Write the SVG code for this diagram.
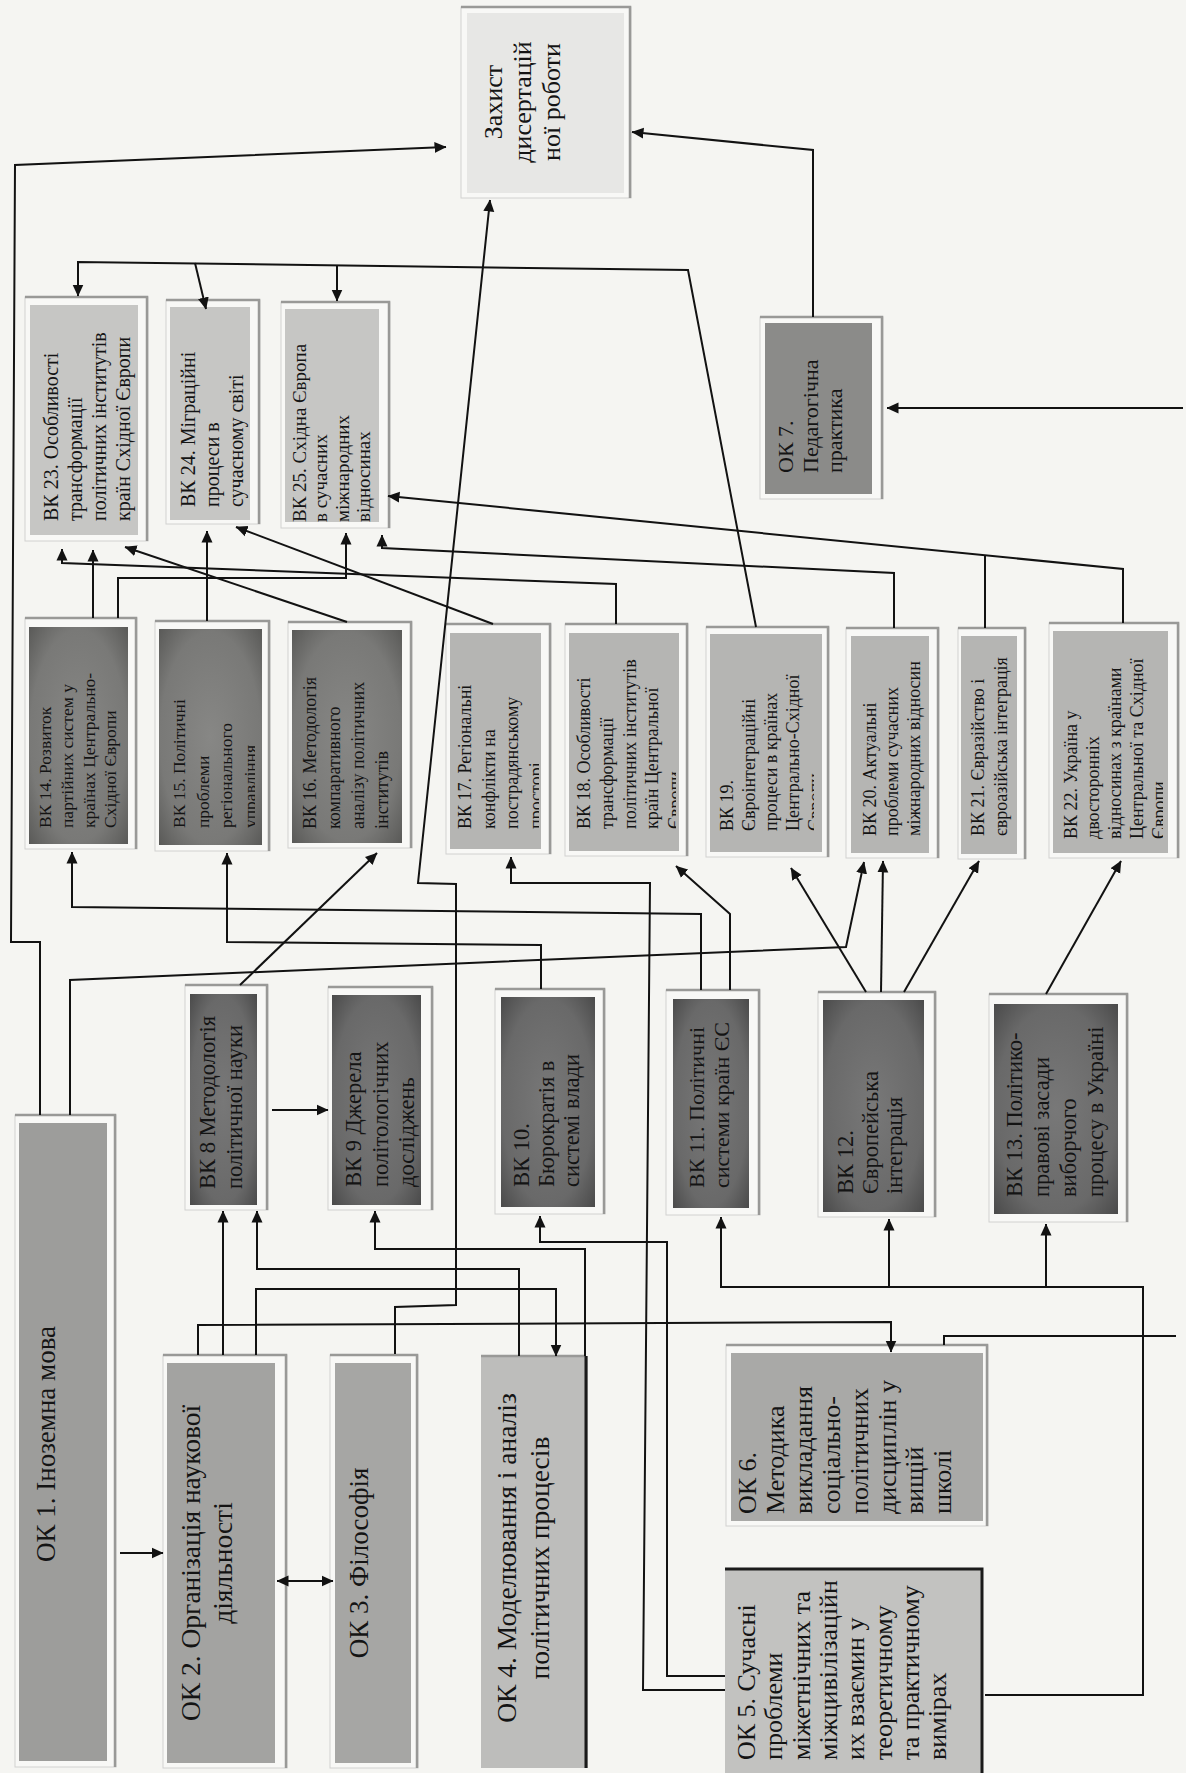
<svg xmlns="http://www.w3.org/2000/svg" width="1186" height="1773" viewBox="0 0 1186 1773">
<defs>
<style>
.bg{fill:#f5f5f2}
.o{fill:#f8f8f6;stroke:#d2d2d0;stroke-width:1}
.sh{fill:none;stroke:#999997;stroke-width:2.5}
.bk{fill:none;stroke:#1a1a1a;stroke-width:3}
.t{font-family:"Liberation Serif","Times New Roman",serif;fill:#141414}
.c{fill:none;stroke:#121212;stroke-width:2;stroke-linejoin:miter}
.a{marker-end:url(#ah)}
.s{marker-start:url(#ahs)}
.f1{fill:#e7e7e5}
.f2{fill:#c6c6c4}
.f3{fill:url(#dk)}
.f5{fill:url(#dk2)}
.f4{fill:#b5b5b3}
</style>
<radialGradient id="dk" cx="0.5" cy="0.5" r="0.75"><stop offset="0" stop-color="#787878"/><stop offset="0.65" stop-color="#696969"/><stop offset="1" stop-color="#444444"/></radialGradient>
<radialGradient id="dk2" cx="0.5" cy="0.5" r="0.75"><stop offset="0" stop-color="#878785"/><stop offset="0.65" stop-color="#797977"/><stop offset="1" stop-color="#535351"/></radialGradient>
<marker id="ah" viewBox="0 0 12 12" refX="11.5" refY="6" markerWidth="12" markerHeight="12" markerUnits="userSpaceOnUse" orient="auto"><path d="M0,0.5 L12,6 L0,11.5 z" fill="#121212"/></marker>
<marker id="ahs" viewBox="0 0 12 12" refX="0.5" refY="6" markerWidth="12" markerHeight="12" markerUnits="userSpaceOnUse" orient="auto"><path d="M12,0.5 L0,6 L12,11.5 z" fill="#121212"/></marker>
<clipPath id="cl15"><rect x="159" y="629" width="96" height="216"/></clipPath>
<clipPath id="cl17"><rect x="450" y="633" width="89" height="216"/></clipPath>
<clipPath id="cl18"><rect x="569" y="633" width="107" height="218"/></clipPath>
<clipPath id="cl19"><rect x="710" y="634" width="104" height="218"/></clipPath>
<clipPath id="cl22"><rect x="1053" y="631" width="110" height="222"/></clipPath>
</defs>
<rect class="bg" x="0" y="0" width="1186" height="1773"/>

<g id="zakhyst">
<rect class="o" x="461" y="7" width="170" height="191"/>
<rect class="f1" x="467" y="13" width="157" height="180"/>
<path class="sh" d="M461,7 H630 V198"/>
<text class="t" font-size="26" text-anchor="middle" transform="translate(502,102) rotate(-90)"><tspan x="0" y="0">Захист</tspan><tspan x="0" y="29">дисертацій</tspan><tspan x="0" y="58">ної роботи</tspan></text>
</g>

<g id="ok7">
<rect class="o" x="760" y="317" width="123" height="182"/>
<rect x="765" y="323" width="107" height="171" fill="#8b8b89"/>
<path class="sh" d="M760,317 H882 V499"/>
<text class="t" font-size="22" transform="translate(793,473) rotate(-90)"><tspan x="0" y="0">ОК 7.</tspan><tspan x="0" y="24.5">Педагогічна</tspan><tspan x="0" y="49">практика</tspan></text>
</g>

<g id="vk23">
<rect class="o" x="25" y="297" width="123" height="244"/>
<rect class="f2" x="30" y="305" width="108" height="230"/>
<path class="sh" d="M25,297 H147 V541"/>
<text class="t" font-size="20" transform="translate(58,521) rotate(-90)"><tspan x="0" y="0">ВК 23. Особливості</tspan><tspan x="0" y="24">трансформації</tspan><tspan x="0" y="48">політичних інститутів</tspan><tspan x="0" y="72">країн Східної Європи</tspan></text>
</g>

<g id="vk24">
<rect class="o" x="166" y="300" width="94" height="224"/>
<rect class="f2" x="170" y="307" width="80" height="213"/>
<path class="sh" d="M166,300 H259 V524"/>
<text class="t" font-size="20" transform="translate(195,507) rotate(-90)"><tspan x="0" y="0">ВК 24. Міграційні</tspan><tspan x="0" y="24">процеси в</tspan><tspan x="0" y="48">сучасному світі</tspan></text>
</g>

<g id="vk25">
<rect class="o" x="281" y="302" width="109" height="226"/>
<rect class="f2" x="285" y="309" width="94" height="213"/>
<path class="sh" d="M281,302 H389 V528"/>
<text class="t" font-size="19" transform="translate(306,522) rotate(-90)"><tspan x="0" y="0">ВК 25. Східна Європа</tspan><tspan x="0" y="21.3">в сучасних</tspan><tspan x="0" y="42.6">міжнародних</tspan><tspan x="0" y="64">відносинах</tspan></text>
</g>

<g id="vk14">
<rect class="o" x="25" y="618" width="112" height="231"/>
<rect class="f5" x="29" y="627" width="99" height="217"/>
<path class="sh" d="M25,618 H136 V849"/>
<text class="t" font-size="17.5" transform="translate(51,828) rotate(-90)"><tspan x="0" y="0">ВК 14. Розвиток</tspan><tspan x="0" y="21.8">партійних систем у</tspan><tspan x="0" y="43.6">країнах Центрально-</tspan><tspan x="0" y="65.4">Східної Європи</tspan></text>
</g>

<g id="vk15">
<rect class="o" x="155" y="621" width="115" height="230"/>
<rect class="f5" x="159" y="629" width="103" height="216"/>
<path class="sh" d="M155,621 H269 V851"/>
<g clip-path="url(#cl15)"><text class="t" font-size="17.5" transform="translate(185,828) rotate(-90)"><tspan x="0" y="0">ВК 15. Політичні</tspan><tspan x="0" y="23.5">проблеми</tspan><tspan x="0" y="47">регіонального</tspan><tspan x="0" y="71">управління</tspan></text></g>
</g>

<g id="vk16">
<rect class="o" x="288" y="622" width="124" height="226"/>
<rect class="f5" x="292" y="630" width="110" height="213"/>
<path class="sh" d="M288,622 H411 V848"/>
<text class="t" font-size="18" transform="translate(316,829) rotate(-90)"><tspan x="0" y="0">ВК 16. Методологія</tspan><tspan x="0" y="24">компаративного</tspan><tspan x="0" y="48">аналізу політичних</tspan><tspan x="0" y="72">інститутів</tspan></text>
</g>

<g id="vk17">
<rect class="o" x="446" y="624" width="105" height="230"/>
<rect class="f4" x="450" y="633" width="91" height="216"/>
<path class="sh" d="M446,624 H550 V854"/>
<g clip-path="url(#cl17)"><text class="t" font-size="18" transform="translate(471,829) rotate(-90)"><tspan x="0" y="0">ВК 17. Регіональні</tspan><tspan x="0" y="23.5">конфлікти на</tspan><tspan x="0" y="47">пострадянському</tspan><tspan x="0" y="71">просторі</tspan></text></g>
</g>

<g id="vk18">
<rect class="o" x="565" y="624" width="123" height="232"/>
<rect class="f4" x="569" y="633" width="110" height="218"/>
<path class="sh" d="M565,624 H687 V856"/>
<g clip-path="url(#cl18)"><text class="t" font-size="18" transform="translate(590,829) rotate(-90)"><tspan x="0" y="0">ВК 18. Особливості</tspan><tspan x="0" y="22.75">трансформації</tspan><tspan x="0" y="45.5">політичних інститутів</tspan><tspan x="0" y="68.25">країн Центральної</tspan><tspan x="0" y="91">Європи</tspan></text></g>
</g>

<g id="vk19">
<rect class="o" x="706" y="627" width="123" height="230"/>
<rect class="f4" x="710" y="634" width="112" height="218"/>
<path class="sh" d="M706,627 H828 V857"/>
<g clip-path="url(#cl19)"><text class="t" font-size="18" transform="translate(733,831) rotate(-90)"><tspan x="0" y="0">ВК 19.</tspan><tspan x="0" y="22">Євроінтеграційні</tspan><tspan x="0" y="44">процеси в країнах</tspan><tspan x="0" y="66">Центрально-Східної</tspan><tspan x="0" y="88">Європи</tspan></text></g>
</g>

<g id="vk20">
<rect class="o" x="846" y="628" width="93" height="230"/>
<rect class="f4" x="851" y="636" width="78" height="217"/>
<path class="sh" d="M846,628 H938 V858"/>
<text class="t" font-size="18" transform="translate(876,836) rotate(-90)"><tspan x="0" y="0">ВК 20. Актуальні</tspan><tspan x="0" y="22">проблеми сучасних</tspan><tspan x="0" y="44">міжнародних відносин</tspan></text>
</g>

<g id="vk21">
<rect class="o" x="958" y="628" width="68" height="231"/>
<rect class="f4" x="961" y="636" width="56" height="218"/>
<path class="sh" d="M958,628 H1025 V859"/>
<text class="t" font-size="18" transform="translate(984,836) rotate(-90)"><tspan x="0" y="0">ВК 21. Євразійство і</tspan><tspan x="0" y="22.5">євроазійська інтеграція</tspan></text>
</g>

<g id="vk22">
<rect class="o" x="1049" y="623" width="130" height="235"/>
<rect class="f4" x="1053" y="631" width="115" height="222"/>
<path class="sh" d="M1049,623 H1178 V858"/>
<g clip-path="url(#cl22)"><text class="t" font-size="18" transform="translate(1077,839) rotate(-90)"><tspan x="0" y="0">ВК 22. Україна у</tspan><tspan x="0" y="22">двосторонніх</tspan><tspan x="0" y="44">відносинах з країнами</tspan><tspan x="0" y="66">Центральної та Східної</tspan><tspan x="0" y="88">Європи</tspan></text></g>
</g>

<g id="vk8">
<rect class="o" x="185" y="985" width="83" height="225"/>
<rect class="f3" x="190" y="994" width="67" height="211"/>
<path class="sh" d="M185,985 H267 V1210"/>
<text class="t" font-size="22.5" transform="translate(215,1189) rotate(-90)"><tspan x="0" y="0">ВК 8 Методологія</tspan><tspan x="0" y="27">політичної науки</tspan></text>
</g>

<g id="vk9">
<rect class="o" x="328" y="987" width="105" height="223"/>
<rect class="f3" x="332" y="995" width="89" height="210"/>
<path class="sh" d="M328,987 H432 V1210"/>
<text class="t" font-size="22.5" transform="translate(361,1187) rotate(-90)"><tspan x="0" y="0">ВК 9 Джерела</tspan><tspan x="0" y="26.5">політологічних</tspan><tspan x="0" y="53">досліджень</tspan></text>
</g>

<g id="vk10">
<rect class="o" x="495" y="989" width="110" height="225"/>
<rect class="f3" x="501" y="997" width="94" height="210"/>
<path class="sh" d="M495,989 H604 V1214"/>
<text class="t" font-size="22.5" transform="translate(529,1187) rotate(-90)"><tspan x="0" y="0">ВК 10.</tspan><tspan x="0" y="25">Бюрократія в</tspan><tspan x="0" y="50">системі влади</tspan></text>
</g>

<g id="vk11">
<rect class="o" x="666" y="990" width="94" height="225"/>
<rect class="f3" x="673" y="999" width="76" height="209"/>
<path class="sh" d="M666,990 H759 V1215"/>
<text class="t" font-size="22" transform="translate(704,1188) rotate(-90)"><tspan x="0" y="0">ВК 11. Політичні</tspan><tspan x="0" y="24.5">системи країн ЄС</tspan></text>
</g>

<g id="vk12">
<rect class="o" x="818" y="992" width="118" height="225"/>
<rect class="f3" x="823" y="1000" width="101" height="212"/>
<path class="sh" d="M818,992 H935 V1217"/>
<text class="t" font-size="22.5" transform="translate(853,1194) rotate(-90)"><tspan x="0" y="0">ВК 12.</tspan><tspan x="0" y="24.5">Європейська</tspan><tspan x="0" y="49">інтеграція</tspan></text>
</g>

<g id="vk13">
<rect class="o" x="989" y="994" width="139" height="228"/>
<rect class="f3" x="994" y="1004" width="124" height="210"/>
<path class="sh" d="M989,994 H1127 V1222"/>
<text class="t" font-size="22.5" transform="translate(1022,1197) rotate(-90)"><tspan x="0" y="0">ВК 13. Політико-</tspan><tspan x="0" y="27">правові засади</tspan><tspan x="0" y="54">виборчого</tspan><tspan x="0" y="81">процесу в Україні</tspan></text>
</g>

<g id="ok1">
<rect class="o" x="15" y="1115" width="101" height="652"/>
<rect x="19" y="1123" width="88" height="638" fill="#9d9d9b"/>
<path class="sh" d="M15,1115 H115 V1767"/>
<text class="t" font-size="27" text-anchor="middle" transform="translate(55,1444) rotate(-90)">ОК 1. Іноземна мова</text>
</g>

<g id="ok2">
<rect class="o" x="163" y="1355" width="124" height="413"/>
<rect x="167" y="1363" width="108" height="400" fill="#a3a3a1"/>
<path class="sh" d="M163,1355 H286 V1768"/>
<text class="t" font-size="27.5" text-anchor="middle" transform="translate(200,1563) rotate(-90)"><tspan x="0" y="0">ОК 2. Організація наукової</tspan><tspan x="0" y="32">діяльності</tspan></text>
</g>

<g id="ok3">
<rect class="o" x="330" y="1355" width="88" height="413"/>
<rect x="335" y="1363" width="76" height="400" fill="#a6a6a4"/>
<path class="sh" d="M330,1355 H417 V1768"/>
<text class="t" font-size="27" text-anchor="middle" transform="translate(368,1563) rotate(-90)">ОК 3. Філософія</text>
</g>

<g id="ok4">
<rect x="481" y="1356" width="107" height="412" fill="#bdbdbb"/>
<path class="sh" d="M481,1356 H586"/>
<path class="bk" d="M586,1356 V1768"/>
<text class="t" font-size="27.5" text-anchor="middle" transform="translate(516,1558) rotate(-90)"><tspan x="0" y="0">ОК 4. Моделювання і аналіз</tspan><tspan x="0" y="33">політичних процесів</tspan></text>
</g>

<g id="ok6">
<rect class="o" x="726" y="1345" width="262" height="181"/>
<rect x="731" y="1353" width="252" height="168" fill="#a9a9a7"/>
<path class="sh" d="M726,1345 H987 V1526"/>
<text class="t" font-size="26" transform="translate(756,1514) rotate(-90)"><tspan x="0" y="0">ОК 6.</tspan><tspan x="0" y="27.9">Методика</tspan><tspan x="0" y="55.8">викладання</tspan><tspan x="0" y="83.7">соціально-</tspan><tspan x="0" y="111.6">політичних</tspan><tspan x="0" y="139.5">дисциплін у</tspan><tspan x="0" y="167.4">вищій</tspan><tspan x="0" y="195.3">школі</tspan></text>
</g>

<g id="ok5">
<rect x="725" y="1568" width="258" height="210" fill="#c2c2c0"/>
<path class="bk" d="M725,1569 H982 V1773"/>
<text class="t" font-size="26" transform="translate(755,1760) rotate(-90)"><tspan x="0" y="0">ОК 5. Сучасні</tspan><tspan x="0" y="27.3">проблеми</tspan><tspan x="0" y="54.6">міжетнічних та</tspan><tspan x="0" y="81.9">міжцивілізаційн</tspan><tspan x="0" y="109.2">их взаємин у</tspan><tspan x="0" y="136.5">теоретичному</tspan><tspan x="0" y="163.8">та практичному</tspan><tspan x="0" y="191.1">вимірах</tspan></text>
</g>

<g id="connectors">
<path class="c a" d="M40,1115 V942 H11 L15,165 L446,147"/>
<path class="c a" d="M70,1115 V980 L846,947 L864,862"/>
<path class="c a" d="M701,990 V914 L72,907 V852"/>
<path class="c a" d="M541,989 V945 L227,942 V853"/>
<path class="c a" d="M240,985 L377,853"/>
<path class="c a" d="M272,1110 H328"/>
<path class="c a" d="M730,990 V914 L676,866"/>
<path class="c a" d="M725,1690 H643 L650,883 H511 V857"/>
<path class="c a" d="M725,1676 H667 V1242 H540 V1216"/>
<path class="c a" d="M866,992 L791,868"/>
<path class="c a" d="M881,992 L883,861"/>
<path class="c a" d="M904,992 L979,861"/>
<path class="c a" d="M1046,994 L1121,861"/>
<path class="c a" d="M985,1695 H1143 V1287 H721 V1217"/>
<path class="c a" d="M889,1287 V1219"/>
<path class="c a" d="M1046,1287 V1224"/>
<path class="c" d="M944,1345 V1336 H1176"/>
<path class="c a" d="M1183,408 H887"/>
<path class="c a" d="M813,317 V150 L632,132"/>
<path class="c a" d="M395,1354 V1307 L456,1305 V884 L418,883 L490,200"/>
<path class="c a" d="M756,627 L688,270 L78,262 V296"/>
<path class="c a" d="M195,263 L206,309"/>
<path class="c a" d="M337,265 V301"/>
<path class="c a" d="M93,618 V550"/>
<path class="c a" d="M616,624 V584 L62,563 V549"/>
<path class="c a" d="M347,622 L125,547"/>
<path class="c a" d="M207,621 V531"/>
<path class="c a" d="M493,624 L236,527"/>
<path class="c a" d="M118,618 V578 H346 V533"/>
<path class="c a" d="M894,628 V573 L382,548 V535"/>
<path class="c a" d="M1123,623 V569 L388,496"/>
<path class="c" d="M985,628 V556"/>
<path class="c a" d="M120,1553 H163"/>
<path class="c a s" d="M277,1581 H333"/>
<path class="c a" d="M223,1355 V1211"/>
<path class="c a" d="M519,1356 V1269 H257 V1211"/>
<path class="c a" d="M256,1355 V1289 H556 V1356"/>
<path class="c a" d="M585,1356 V1249 H375 V1211"/>
<path class="c a" d="M198,1355 V1325 L891,1322 V1352"/>
</g>
</svg>
